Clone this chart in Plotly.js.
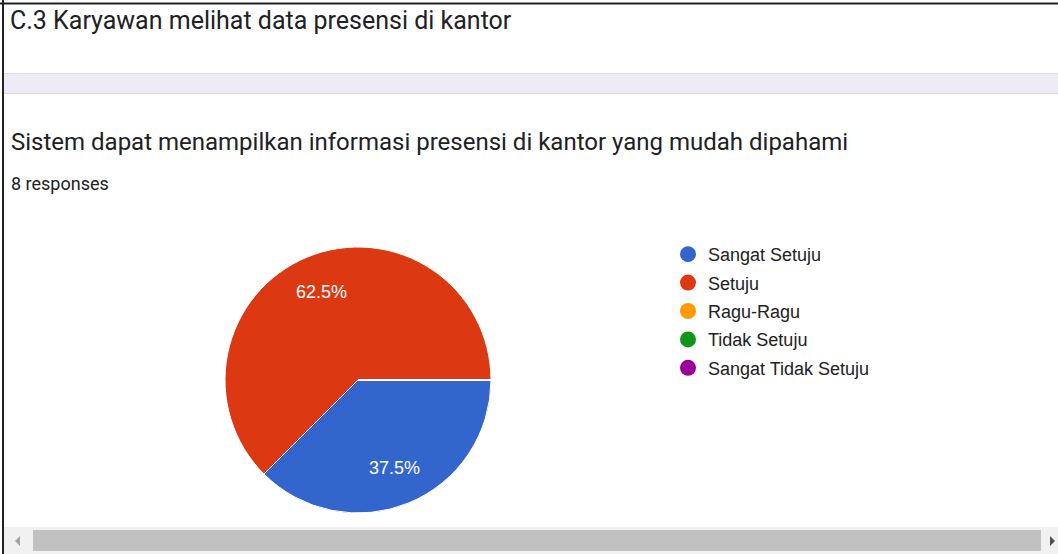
<!DOCTYPE html>
<html>
<head>
<meta charset="utf-8">
<script src="https://cdn.plot.ly/plotly-3.0.1.min.js"></script>
<style>
html,body{margin:0;padding:0;background:#fff;overflow:hidden;}
#chart{width:1058px;height:554px;}
</style>
</head>
<body>
<div id="chart"></div>
<script>
var sectionTitle = "C.3 Karyawan melihat data presensi di kantor";
var questionText = "Sistem dapat menampilkan informasi presensi di kantor yang mudah dipahami";
var responsesText = "8 responses";
var categories = ["Sangat Setuju", "Setuju", "Ragu-Ragu", "Tidak Setuju", "Sangat Tidak Setuju"];
var counts = [3, 5, 0, 0, 0];
var colors = ["#3366cc", "#dc3912", "#ff9900", "#109618", "#990099"];

var W = 1058, H = 554;
function px(x){return x / W;}
function py(y){return 1 - y / H;}

var pieDomain = {x: [px(225), px(491)], y: [py(513), py(247)]};
var pieRotation = 90;

var traces = [{
  type: "pie",
  labels: categories,
  values: counts,
  sort: false,
  direction: "clockwise",
  rotation: pieRotation,
  marker: {colors: colors, line: {color: "#ffffff", width: 1}},
  textinfo: "none",
  domain: pieDomain,
  showlegend: false,
  hoverinfo: "label+percent"
}];

categories.forEach(function(c, i){
  traces.push({
    type: "scatter", mode: "markers", x: [null], y: [null], name: c,
    legendgroup: "g" + i,
    marker: {symbol: "circle", size: 16, color: colors[i]},
    xaxis: "x", yaxis: "y", hoverinfo: "skip"
  });
});

// percentage labels placed along each slice's bisector, derived from the data
var total = counts.reduce(function(a, b){return a + b;}, 0);
var cxPx = (pieDomain.x[0] + pieDomain.x[1]) / 2 * W;
var cyPx = (1 - (pieDomain.y[0] + pieDomain.y[1]) / 2) * H;
var rPx = (pieDomain.x[1] - pieDomain.x[0]) * W / 2;
var labelAnnotations = [];
var cum = 0;
counts.forEach(function(v){
  if (v > 0) {
    var f = (cum + v / 2) / total;
    var theta = (pieRotation + f * 360) * Math.PI / 180;
    var lx = cxPx + 0.72 * rPx * Math.sin(theta);
    var ly = cyPx - 0.72 * rPx * Math.cos(theta);
    labelAnnotations.push({
      text: (v / total * 100).toFixed(1) + "%",
      xref: "paper", yref: "paper", x: lx / W, y: 1 - ly / H,
      xanchor: "center", yanchor: "middle", showarrow: false,
      font: {family: "Liberation Sans, Arial, sans-serif", size: 18, color: "#ffffff"}
    });
  }
  cum += v;
});

var layout = {
  width: W, height: H,
  margin: {l: 0, r: 0, t: 0, b: 0},
  paper_bgcolor: "#ffffff",
  plot_bgcolor: "rgba(0,0,0,0)",
  xaxis: {visible: false, domain: [0.99, 1]},
  yaxis: {visible: false, domain: [0.99, 1]},
  showlegend: true,
  legend: {
    x: px(668), y: py(236), xanchor: "left", yanchor: "top",
    font: {family: "Liberation Sans, Arial, sans-serif", size: 18, color: "#222222"},
    tracegroupgap: 2,
    bgcolor: "rgba(0,0,0,0)",
    itemclick: false, itemdoubleclick: false
  },
  title: {
    text: sectionTitle,
    x: px(10), xanchor: "left", xref: "paper",
    y: py(20), yanchor: "middle", yref: "paper",
    font: {family: "Roboto, sans-serif", size: 25, color: "#202124"}
  },
  annotations: [
    {text: questionText, xref: "paper", yref: "paper", x: px(9), y: py(142), xanchor: "left", yanchor: "middle", showarrow: false,
     font: {family: "Roboto, sans-serif", size: 24, color: "#202124"}},
    {text: responsesText, xref: "paper", yref: "paper", x: px(9), y: py(183), xanchor: "left", yanchor: "middle", showarrow: false,
     font: {family: "Roboto, sans-serif", size: 18, color: "#202124"}}
  ].concat(labelAnnotations),
  shapes: [
    {type: "line", xref: "paper", yref: "paper", x0: 0, x1: 1, y0: py(3.5), y1: py(3.5), line: {color: "#222222", width: 2}},
    {type: "line", xref: "paper", yref: "paper", x0: px(3), x1: px(3), y0: 0, y1: 1, line: {color: "#222222", width: 2}},
    {type: "rect", xref: "paper", yref: "paper", x0: px(4), x1: 1, y0: py(93.5), y1: py(73.5), fillcolor: "#eeeaf6", line: {width: 0}, layer: "below"},
    {type: "line", xref: "paper", yref: "paper", x0: px(4), x1: 1, y0: py(73.5), y1: py(73.5), line: {color: "#dcdce0", width: 1}},
    {type: "line", xref: "paper", yref: "paper", x0: px(4), x1: 1, y0: py(93.5), y1: py(93.5), line: {color: "#dcdce0", width: 1}},
    {type: "rect", xref: "paper", yref: "paper", x0: px(4), x1: 1, y0: 0, y1: py(527), fillcolor: "#f1f1f1", line: {width: 0}},
    {type: "rect", xref: "paper", yref: "paper", x0: px(33), x1: px(1041), y0: py(551), y1: py(530), fillcolor: "#c1c1c1", line: {width: 0}},
    {type: "path", xref: "paper", yref: "paper", path: "M" + px(20) + "," + py(536) + " L" + px(20) + "," + py(546) + " L" + px(15) + "," + py(541) + " Z", fillcolor: "#a3a3a3", line: {width: 0}},
    {type: "path", xref: "paper", yref: "paper", path: "M" + px(1050) + "," + py(536) + " L" + px(1050) + "," + py(546) + " L" + px(1055) + "," + py(541) + " Z", fillcolor: "#505050", line: {width: 0}}
  ]
};

Plotly.newPlot("chart", traces, layout, {displayModeBar: false, staticPlot: true});
</script>
</body>
</html>
